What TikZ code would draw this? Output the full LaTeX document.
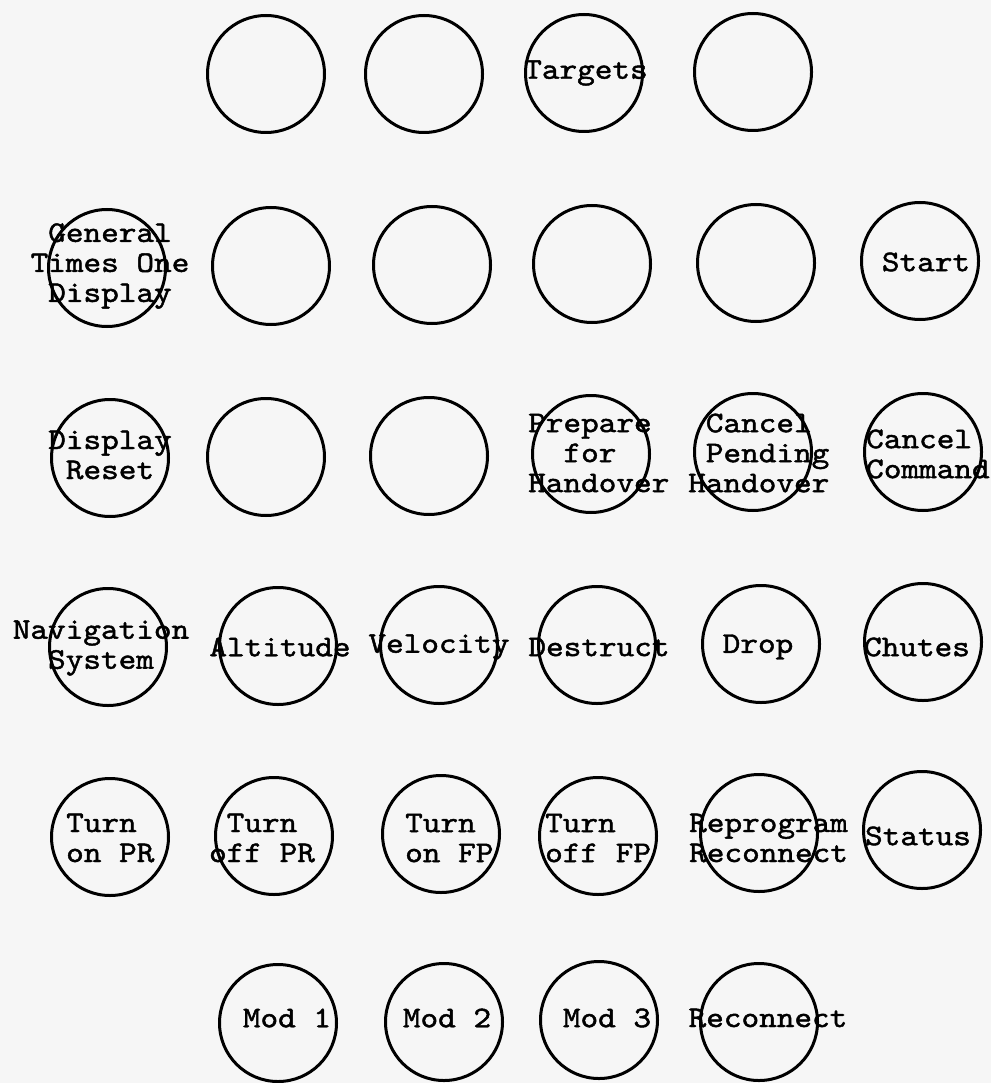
\documentclass[tikz,border=0pt]{standalone}
\usepackage{fontspec}
\newfontfamily\tw{lmmono10-regular.otf}[FakeStretch=1.12,FakeBold=1.5]
\definecolor{bg}{RGB}{246,246,246}
\begin{document}
\begin{tikzpicture}[x=1pt,y=-1pt,
  btn/.style={circle,draw,line width=3pt,minimum size=117pt,inner sep=0pt},
  lbl/.style={font=\tw\fontsize{30}{30}\selectfont,inner sep=0pt,align=center},
  lbll/.style={lbl,align=left,anchor=west}]
\fill[bg] (0,0) rectangle (991,1083);
\useasboundingbox (0,0) rectangle (991,1083);
% row 1
\node[btn] (a1) at (266,74) {};
\node[btn] (a2) at (424,74) {};
\node[btn] (a3) at (584,73) {};
\node[btn] (a4) at (753,72) {};
\node[lbl] (la3) at (586,73) {Targets};
% row 2
\node[btn] (b1) at (107,268) {};
\node[btn] (b2) at (271,266) {};
\node[btn] (b3) at (432,265) {};
\node[btn] (b4) at (592,264) {};
\node[btn] (b5) at (756,263) {};
\node[btn] (b6) at (920,261) {};
\node[lbl] (lb1) at (110,266) {General\\Times One\\Display};
\node[lbl] (lb6) at (926,262) {Start};
% row 3
\node[btn] (c1) at (110,458) {};
\node[btn] (c2) at (266,457) {};
\node[btn] (c3) at (429,456) {};
\node[btn] (c4) at (591,454) {};
\node[btn] (c5) at (753,452) {};
\node[btn] (c6) at (923,452) {};
\node[lbl] (lc1) at (110,455) {Display\\Reset};
\node[lbll] (lc4) at (528,453) {Prepare\\\phantom{XX}for\\Handover};
\node[lbll] (lc5) at (688,453) {\phantom{X}Cancel\\\phantom{X}Pending\\Handover};
\node[lbll] (lc6) at (866,454) {Cancel\\Command};
% row 4
\node[btn] (d1) at (108,647) {};
\node[btn] (d2) at (278,646) {};
\node[btn] (d3) at (439,645) {};
\node[btn] (d4) at (597,645) {};
\node[btn] (d5) at (761,644) {};
\node[btn] (d6) at (923,642) {};
\node[lbl] (ld1) at (101,648) {Navigation\\System};
\node[lbl] (ld2) at (280,647) {Altitude};
\node[lbl] (ld3) at (439,647) {Velocity};
\node[lbl] (ld4) at (599,647) {Destruct};
\node[lbl] (ld5) at (758,647) {Drop};
\node[lbl] (ld6) at (917,647) {Chutes};
% row 5
\node[btn] (e1) at (110,837) {};
\node[btn] (e2) at (274,836) {};
\node[btn] (e3) at (441,834) {};
\node[btn] (e4) at (598,836) {};
\node[btn] (e5) at (759,833) {};
\node[btn] (e6) at (922,830) {};
\node[lbll] (le1) at (66,838) {Turn\\on PR};
\node[lbl] (le2) at (262,838) {Turn\\off PR};
\node[lbll] (le3) at (405,838) {Turn\\on FP};
\node[lbll] (le4) at (545,838) {Turn\\off FP};
\node[lbll] (le5) at (689,838) {Reprogram\\Reconnect};
\node[lbl] (le6) at (918,836) {Status};
% row 6
\node[btn] (f1) at (278,1023) {};
\node[btn] (f2) at (444,1022) {};
\node[btn] (f3) at (599,1020) {};
\node[btn] (f4) at (759,1022) {};
\node[lbl] (lf1) at (287,1018) {Mod 1};
\node[lbl] (lf2) at (447,1018) {Mod 2};
\node[lbl] (lf3) at (607,1018) {Mod 3};
\node[lbl] (lf4) at (768,1018) {Reconnect};
\end{tikzpicture}
\end{document}
